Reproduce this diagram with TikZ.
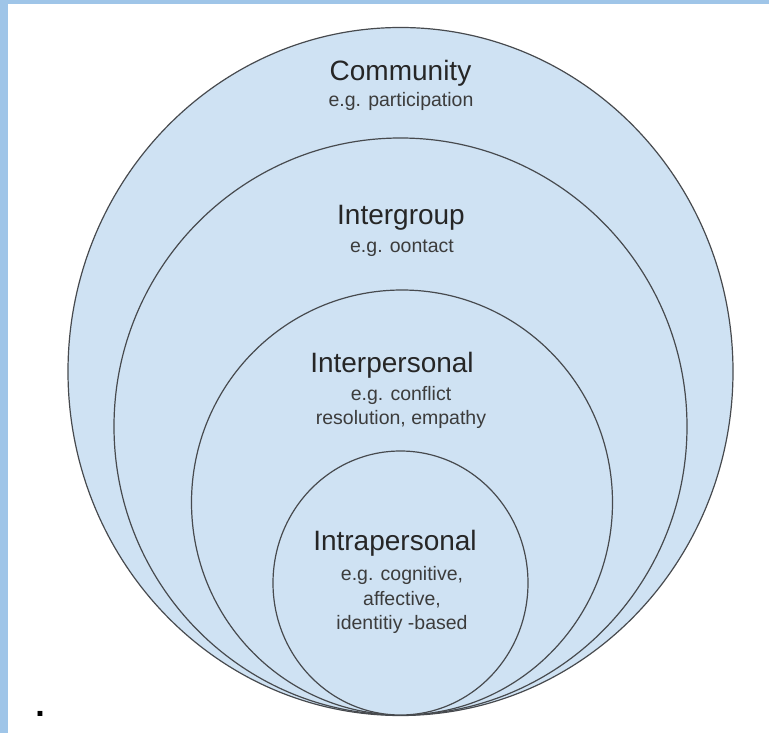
\documentclass[tikz,border=0pt]{standalone}
\usepackage{fontspec}
\setmainfont{Liberation Sans}
\usetikzlibrary{shapes.geometric}
\definecolor{ringblue}{HTML}{CFE2F3}
\definecolor{stripblue}{HTML}{9FC5E8}
\definecolor{ringline}{HTML}{474A4E}
\definecolor{textgray}{HTML}{262626}

\begin{document}
\begin{tikzpicture}
[x=1pt,y=-1pt]
\tikzset{ring/.style={ellipse,draw=ringline,line width=1.2pt,fill=ringblue,inner sep=0pt}}
\tikzset{title/.style={font=\fontsize{28}{32}\selectfont,text=textgray,inner sep=0pt}}
\tikzset{sub/.style={font=\fontsize{19.5}{24.5}\selectfont,text=textgray!90,align=center,inner sep=0pt}}
\useasboundingbox (0,0) rectangle (769,733);
\fill [stripblue] (0,0) rectangle (769,4);
\fill [stripblue] (0,0) rectangle (8,733);

\node [ring,minimum width=665pt,minimum height=688pt] (community) at (400.5,371.5) {};
\node [ring,minimum width=573pt,minimum height=577pt] (intergroup) at (400.5,426.5) {};
\node [ring,minimum width=421pt,minimum height=425pt] (interpersonal) at (402,502.5) {};
\node [ring,minimum width=255pt,minimum height=264pt] (intrapersonal) at (400.5,583) {};

\node [title] (t1) at (400.5,73) {Community};
\node [sub] (s1) at (401,101) {e.g. participation};
\node [title] (t2) at (401,218) {Intergroup};
\node [sub] (s2) at (402,248) {e.g. oontact};
\node [title] (t3) at (392,365) {Interpersonal};
\node [sub] (s3) at (401,407.5) {e.g. conflict\\resolution, empathy};
\node [title] (t4) at (395,543) {Intrapersonal};
\node [sub] (s4) at (402,600) {e.g. cognitive,\\affective,\\identitiy -based};

\node [font=\fontsize{34}{40}\selectfont\bfseries,inner sep=0pt] (dot) at (40,714) {.};

\end{tikzpicture}
\end{document}
